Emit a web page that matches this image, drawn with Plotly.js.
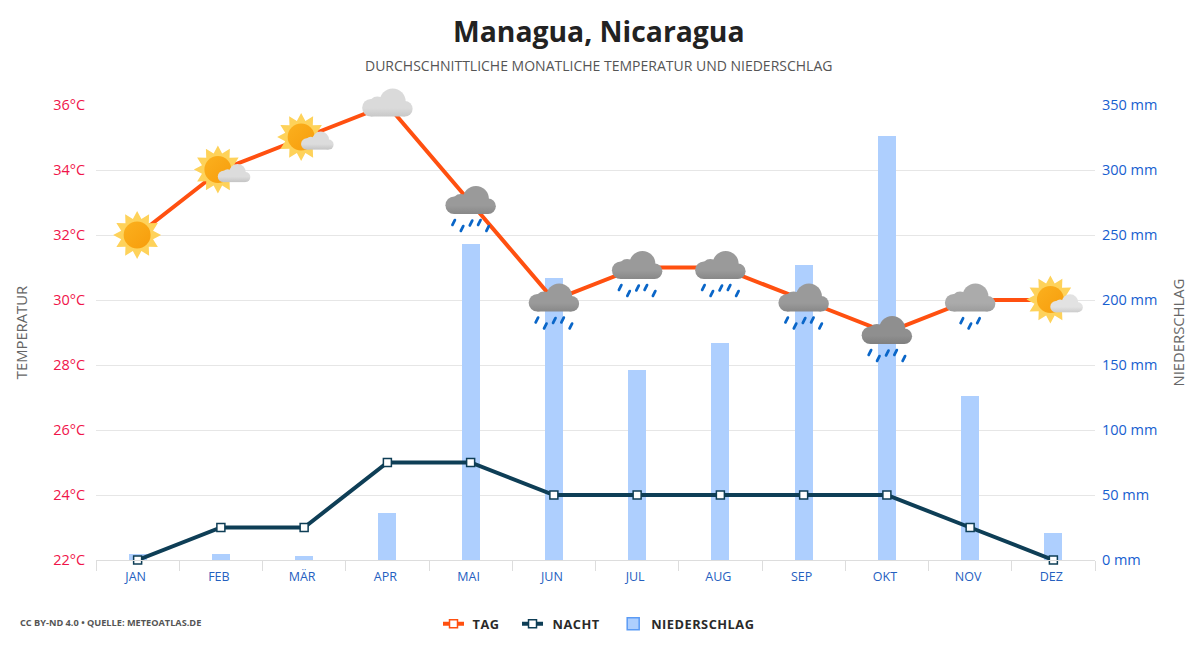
<!DOCTYPE html>
<html><head><meta charset="utf-8">
<script src="https://cdn.plot.ly/plotly-3.0.1.min.js"></script>
<style>
html,body{margin:0;padding:0;background:#fff}
#chart{width:1200px;height:650px}
image{clip-path:none !important}
.legend .scrollbox{clip-path:none !important}
.legendtext{letter-spacing:.5px}
.legend .traces:nth-child(3) .legendpoints path{stroke:#5b9bf5 !important;stroke-width:1.5px !important;stroke-opacity:1 !important}
.legend .legendlines path{stroke-dasharray:0 4.5 21 4.5}
.legend .traces:nth-child(1){translate:-4.5px 0}
.legend .traces:nth-child(2){translate:2.5px 0}
.legend .traces:nth-child(3){translate:11px 0}
.legend .traces:nth-child(1) .legendtext{translate:-1px 0}
.legend .traces:nth-child(3) .legendtext{translate:-2px 0}
.xtick text{translate:-2px 0}
.xtick:nth-child(3) text{translate:-2px 2px}
</style></head><body><div id="chart"></div>
<script>
const months=["JAN","FEB","MÄR","APR","MAI","JUN","JUL","AUG","SEP","OKT","NOV","DEZ"];
const tagTemp=[32,34,35,36,33,30,31,31,30,29,30,30];
const nachtTemp=[22,23,23,25,25,24,24,24,24,24,23,22];
const niederschlag=[5,5,3,36,243,217,146,167,227,326,126,21];
const wetter=["sun","sunCloud","sunCloud","cloud","rain","rain","rain","rain","rain","storm","lightRain","sunCloud2"];
const tempTicks=[22,24,26,28,30,32,34,36];
const mmTicks=[0,50,100,150,200,250,300,350];

const C=40;
function cloud(cx,cy,s,top,bottom){
  const c=[[-16.5,2.75,8.75],[-10,0,8.5],[5.3,-3.5,13],[17.5,3.75,7.75]];
  let o=`<defs><linearGradient id="cg" gradientUnits="userSpaceOnUse" x1="0" y1="${cy-16.5*s}" x2="0" y2="${cy+11.5*s}"><stop offset="0" stop-color="${top}"/><stop offset=".7" stop-color="${top}"/><stop offset="1" stop-color="${bottom}"/></linearGradient></defs><g fill="url(#cg)">`;
  c.forEach(p=>{o+=`<circle cx="${cx+p[0]*s}" cy="${cy+p[1]*s}" r="${p[2]*s}"/>`;});
  o+=`<rect x="${cx-16.5*s}" y="${cy+1*s}" width="${34*s}" height="${10.5*s}"/></g>`;
  return o;
}
function sun(cx,cy){
  let pts=[];
  for(let i=0;i<24;i++){const r=i%2?16.5:24,a=i*Math.PI/12;pts.push((cx+r*Math.sin(a)).toFixed(2)+","+(cy-r*Math.cos(a)).toFixed(2));}
  return `<defs><linearGradient id="sg" x1="0" y1="0" x2="1" y2="1"><stop offset="0" stop-color="#fbb01e"/><stop offset="1" stop-color="#f79d0c"/></linearGradient></defs><polygon points="${pts.join(" ")}" fill="#fed25a"/><circle cx="${cx}" cy="${cy}" r="13.5" fill="url(#sg)"/>`;
}
function drops(list){
  return list.map(d=>{const y=C+d[1];return `<line x1="${C+d[0]-1.2}" y1="${y+2.4}" x2="${C+d[0]+1.2}" y2="${y-2.4}" stroke="#0a66c8" stroke-width="2.8" stroke-linecap="round"/>`;}).join("");
}
const heavy=[[-17,20],[-8.6,26],[0.4,20.5],[8.7,20],[17,26]];
const light=[[-8.3,20.7],[-0.3,26],[8.3,20.7]];
const iconBody={
  sun:()=>sun(C-0.5,C),
  sunCloud:()=>sun(C-3,C-0.5)+cloud(C+13.2,C+4.7,.645,"#dcdcdc","#c4c4c4"),
  sunCloud2:()=>sun(C-3,C-0.5)+cloud(C+13.2,C+4.9,.645,"#e2e2e2","#cccccc"),
  cloud:()=>cloud(C,C,1,"#dadada","#c8c8c8"),
  rain:()=>cloud(C,C,1,"#9a9a9a","#888888")+drops(heavy),
  storm:()=>cloud(C,C,1,"#8f8f8f","#7f7f7f")+drops(heavy),
  lightRain:()=>cloud(C,C,1,"#ababab","#9c9c9c")+drops(light)
};
function iconUri(k){
  return "data:image/svg+xml;charset=utf-8,"+encodeURIComponent(`<svg xmlns="http://www.w3.org/2000/svg" width="320" height="320" viewBox="0 0 ${2*C} ${2*C}">${iconBody[k]()}</svg>`);
}
const images=months.map((m,i)=>({source:iconUri(wetter[i]),xref:"x",yref:"y2",x:i,y:tagTemp[i],sizex:2*C/(1000/12),sizey:2*C/32.5,xanchor:"center",yanchor:"middle",layer:"above",sizing:"stretch"}));

const traces=[
 {name:"TAG",type:"scatter",mode:"lines+markers",x:months,y:tagTemp,yaxis:"y2",cliponaxis:false,
  line:{color:"#ff5010",width:4},marker:{symbol:"square",size:8,color:"#fff",line:{color:"#ff5010",width:1.5}}},
 {name:"NACHT",type:"scatter",mode:"lines+markers",x:months,y:nachtTemp,yaxis:"y2",cliponaxis:false,
  line:{color:"#0e3e56",width:4},marker:{symbol:"square",size:8,color:"#fff",line:{color:"#0e3e56",width:1.5}}},
 {name:"NIEDERSCHLAG",type:"bar",x:months,y:niederschlag,yaxis:"y",width:0.216,marker:{color:"#aecffe",line:{width:0}}}
];
const layout={
 width:1200,height:650,margin:{l:95.5,r:104.5,t:105,b:90},paper_bgcolor:"#fff",plot_bgcolor:"#fff",
 font:{family:"'Open Sans',sans-serif",color:"#444"},
 title:{text:"<b>Managua, Nicaragua</b>",font:{size:28.3,color:"#222"},x:0.499,xref:"container",xanchor:"center",y:0.95,yref:"container",yanchor:"middle"},
 xaxis:{type:"category",categoryorder:"array",categoryarray:months,range:[-0.5,11.5],tickson:"boundaries",ticks:"outside",ticklen:10,tickwidth:1,tickcolor:"#dddddd",showline:true,linecolor:"#dddddd",linewidth:1,showgrid:false,zeroline:false,tickfont:{size:12.5,color:"#2560bf"},ticklabelstandoff:5,fixedrange:true},
 yaxis:{side:"right",range:[0,350],tickmode:"array",tickvals:mmTicks,ticktext:mmTicks.map(v=>v+" mm"),ticks:"outside",ticklen:3,tickcolor:"rgba(0,0,0,0)",showgrid:true,gridcolor:"#e6e6e6",gridwidth:1,zeroline:false,tickfont:{size:14.5,color:"#1760d0"},title:{text:"NIEDERSCHLAG",font:{size:14.8,color:"#666"},standoff:17},fixedrange:true},
 yaxis2:{side:"left",overlaying:"y",range:[22,36],tickmode:"array",tickvals:tempTicks,ticktext:tempTicks.map(v=>v+"°C"),ticks:"outside",ticklen:7,tickcolor:"rgba(0,0,0,0)",showgrid:false,zeroline:false,tickfont:{size:14.5,color:"#f0144a"},title:{text:"TEMPERATUR",font:{size:14.8,color:"#666"},standoff:21},fixedrange:true},
 bargap:0,showlegend:true,
 legend:{orientation:"h",xref:"container",yref:"container",x:0.365,y:0.04,xanchor:"left",yanchor:"middle",font:{size:12.8,color:"#2a2a2a",weight:700},itemclick:false,itemdoubleclick:false,bgcolor:"rgba(0,0,0,0)"},
 images:images,
 annotations:[
  {text:"DURCHSCHNITTLICHE MONATLICHE TEMPERATUR UND NIEDERSCHLAG",xref:"paper",yref:"paper",x:0.5035,y:1.0,yanchor:"middle",xanchor:"center",yshift:40,showarrow:false,font:{size:14,color:"#555"}},
  {text:"<b>CC BY-ND 4.0 • QUELLE: METEOATLAS.DE</b>",xref:"paper",yref:"paper",x:0,xshift:-78.5,y:0,yshift:-62,xanchor:"left",yanchor:"middle",showarrow:false,font:{size:9.2,color:"#555"}}
 ],
 hovermode:false
};
Plotly.newPlot("chart",traces,layout,{displayModeBar:false,staticPlot:true});
</script></body></html>
